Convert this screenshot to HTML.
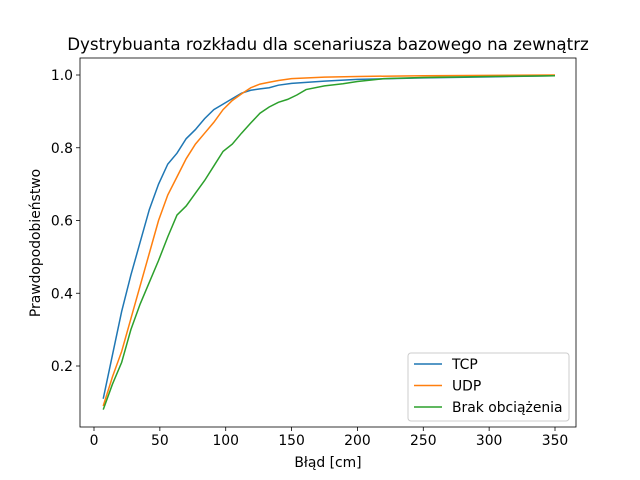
<!DOCTYPE html>
<html><head><meta charset="utf-8"><style>body{margin:0;background:#fff}svg{display:block;font-family:"DejaVu Sans","Liberation Sans",sans-serif}</style></head>
<body>
<svg id="chart" width="640" height="480" viewBox="0 0 640 480"></svg>
<script>
const seriesNames = ["TCP","UDP","Brak obciążenia"];
const seriesColors = ["#1f77b4","#ff7f0e","#2ca02c"];
const tcpX = [7,14,21,28,35,42,49,56,63,70,77,84,91,98,105,112,119,126,133,140,150,175,200,225,250,300,350];
const tcpY = [0.11,0.23,0.35,0.45,0.54,0.63,0.70,0.755,0.785,0.825,0.85,0.88,0.905,0.92,0.935,0.95,0.958,0.962,0.965,0.972,0.977,0.983,0.988,0.99,0.992,0.995,0.998];
const udpX = [7,14,21,28,35,42,49,56,63,70,77,84,91,98,105,112,119,126,133,140,150,175,200,250,350];
const udpY = [0.09,0.17,0.24,0.33,0.42,0.51,0.60,0.67,0.72,0.77,0.81,0.84,0.87,0.905,0.93,0.948,0.965,0.975,0.98,0.985,0.99,0.994,0.996,0.998,1.0];
const brakX = [7,14,21,28,35,42,49,56,63,70,77,84,91,98,105,112,119,126,133,140,147,154,161,175,189,200,220,250,300,350];
const brakY = [0.08,0.15,0.21,0.30,0.37,0.43,0.49,0.555,0.615,0.64,0.675,0.71,0.75,0.79,0.81,0.84,0.868,0.895,0.912,0.925,0.933,0.945,0.96,0.97,0.976,0.982,0.99,0.993,0.996,0.998];
const xTicks = [0,50,100,150,200,250,300,350];
const yTicks = [0.2,0.4,0.6,0.8,1.0];

const svg = document.getElementById('chart');
const NS = 'http://www.w3.org/2000/svg';
const L=80,R=576,T=58,B=427;
const sx = v => 94 + v*(555-94)/350;
const sy = v => 75 + (1-v)*363.75;
function mk(tag, attrs, parent){const e=document.createElementNS(NS,tag);for(const k in attrs)e.setAttribute(k,attrs[k]);(parent||svg).appendChild(e);return e;}

const title = mk('text',{x:328,y:50,'text-anchor':'middle','font-size':16.7,fill:'#000'});
title.textContent='Dystrybuanta rozkładu dla scenariusza bazowego na zewnątrz';



xTicks.forEach(t=>{
  const g=mk('g',{});
  
  
  mk('line',{x1:sx(t),x2:sx(t),y1:B,y2:B+4,stroke:'#000','stroke-width':0.8},g);
  const tx=mk('text',{x:sx(t),y:B+18,'text-anchor':'middle','font-size':13.9,fill:'#000'},g);tx.textContent=t;
});
yTicks.forEach(t=>{
  const g=mk('g',{});
  
  
  mk('line',{x1:L-4,x2:L,y1:sy(t),y2:sy(t),stroke:'#000','stroke-width':0.8},g);
  const tx=mk('text',{x:L-7,y:sy(t)+5,'text-anchor':'end','font-size':13.9,fill:'#000'},g);tx.textContent=t.toFixed(1);
});

const xs=[tcpX,udpX,brakX], ys=[tcpY,udpY,brakY];
xs.forEach((X,i)=>{
  const p=mk('polyline',{points:X.map((x,j)=>sx(x)+','+sy(ys[i][j])).join(' '),fill:'none',stroke:seriesColors[i],'stroke-width':1.5});
  
  
});

const frame=mk('rect',{x:L,y:T,width:R-L,height:B-T,fill:'none',stroke:'#000','stroke-width':0.8});



const xl=mk('text',{x:328,y:467,'text-anchor':'middle','font-size':13.9,fill:'#000'});xl.textContent='Błąd [cm]';


const yl=mk('text',{x:40,y:243,'text-anchor':'middle','font-size':13.9,fill:'#000',transform:'rotate(-90 40 243)'});yl.textContent='Prawdopodobieństwo';



const lg=mk('g',{});


mk('rect',{x:408,y:353,width:161,height:68,rx:3,fill:'#fff','fill-opacity':0.8,stroke:'#ccc','stroke-width':1},lg);
seriesNames.forEach((n,i)=>{
  const g=mk('g',{},lg);
  
  
  const y=364+i*21.5;
  mk('line',{x1:414,x2:442,y1:y,y2:y,stroke:seriesColors[i],'stroke-width':1.5},g);
  const t=mk('text',{x:452,y:y+5,'font-size':13.9,fill:'#000'},g);t.textContent=n;
});
</script>
</body></html>
